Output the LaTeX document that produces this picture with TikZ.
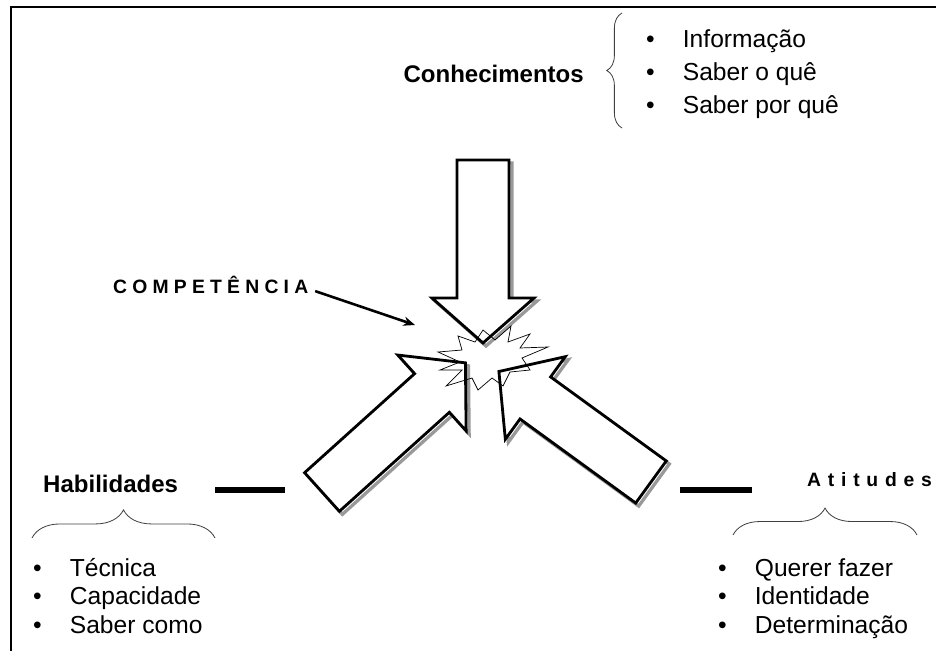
\documentclass[tikz,border=0pt]{standalone}
\usepackage{fontspec}
\setmainfont{Liberation Sans}
\usetikzlibrary{decorations.pathreplacing,arrows.meta}
\newcommand\bul{\makebox[1.1cm][l]{\textbullet}}
\tikzset{
  blockarrow/.pic={
    \draw[fill=white] (0,-26)--(#1-45,-26)--(#1-45,-51)--(#1,0)--(#1-45,51)--(#1-45,26)--(0,26)--cycle;
  },
  heading/.style={font=\fontsize{20.5}{24}\selectfont\bfseries,inner sep=0pt},
  wide/.style={font=\fontsize{16.5}{19}\selectfont\bfseries\addfontfeature{LetterSpace=#1},inner sep=0pt},
  listitem/.style={font=\fontsize{21}{25}\selectfont,anchor=base west,inner sep=0pt},
  curly/.style={decorate,decoration={brace,amplitude=#1},draw=black!75,line width=0.7pt},
  thickbar/.style={line width=4.3pt},
  arrowline/.style={line width=2.4pt,line join=miter,color=black},
  arrowshadow/.style={line width=2.8pt,line join=miter,color=black!40},
  burst/.style={line width=0.6pt}
}
\begin{document}
\begin{tikzpicture}[x=0.03cm,y=-0.03cm,>={Stealth[length=10pt,width=8pt]}]
\useasboundingbox (0,0) rectangle (936,651);
\draw[line width=2.5pt](11,651)--(11,7)--(936,7);

% Conhecimentos
\node[heading,anchor=base east] (con) at (584,83) {Conhecimentos};
\draw[curly=13pt](622,128)--(622,13);
\node[listitem] (con1) at (646,48) {\bul Informação};
\node[listitem] (con2) at (646,81) {\bul Saber o quê};
\node[listitem] (con3) at (646,114) {\bul Saber por quê};

% the three arrows
\pic[arrowshadow] at (486,163) [rotate=-90] {blockarrow=183};
\pic[arrowline] at (483,160) [rotate=-90] {blockarrow=183};
\pic[arrowshadow] at (325,495) [rotate=42] {blockarrow=193};
\pic[arrowline] at (322,492) [rotate=42] {blockarrow=193};
\pic[arrowshadow] at (654,485) [rotate=144] {blockarrow=188};
\pic[arrowline] at (651,482) [rotate=144] {blockarrow=188};

\draw[burst](438,352)--(462,350)--(458,336)--(475,342)--(483,330)--(495,340)--(511,326)--(508,342)
  --(530,334)--(520,348)--(548,347)--(522,358)--(530,370)--(510,372)--(503,386)--(492,378)
  --(478,390)--(472,378)--(446,386)--(462,370)--(440,370)--(460,362)--cycle;

% competencia
\node[wide=27,anchor=base west] (comp) at (113,293) {COMPETÊNCIA};
\coordinate (hit) at (415,325);
\draw[->,line width=2.2pt]([xshift=0.2cm,yshift=-0.2cm]comp.east)--(hit);

% Habilidades
\node[heading,anchor=base west] (hab) at (43,492) {Habilidades};
\draw[thickbar](215,490)--(285,490);
\draw[curly=24pt](32,538)--(215,538);
\node[listitem] (hab1) at (33,576) {\bul Técnica};
\node[listitem] (hab2) at (33,604.5) {\bul Capacidade};
\node[listitem] (hab3) at (33,633) {\bul Saber como};

% Atitudes
\node[wide=35,anchor=base west] (ati) at (807,486) {Atitudes};
\draw[thickbar](680,490)--(752,490);
\draw[curly=23pt](733,535)--(917,535);
\node[listitem] (ati1) at (718,576) {\bul Querer fazer};
\node[listitem] (ati2) at (718,604.5) {\bul Identidade};
\node[listitem] (ati3) at (718,633) {\bul Determinação};
\end{tikzpicture}
\end{document}
